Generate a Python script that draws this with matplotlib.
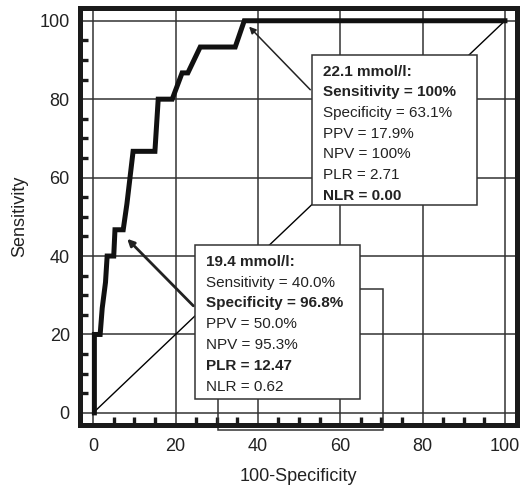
import matplotlib
matplotlib.use("Agg")
import matplotlib.pyplot as plt
from matplotlib.patches import Rectangle

plt.rcParams['font.family'] = ['Liberation Sans', 'DejaVu Sans']

# ROC curve (100-specificity, sensitivity)
fpr = [0.3, 0.3, 1.7, 2.2, 3.0, 3.4, 5.0, 5.3, 7.3, 8.2, 9.7, 15.0, 15.8, 19.2,
       21.6, 23.0, 26.0, 34.5, 36.7, 100]
sens = [0, 20, 20, 26.7, 33.3, 40, 40, 46.7, 46.7, 53.3, 66.7, 66.7, 80, 80,
        86.7, 86.7, 93.3, 93.3, 100, 100]

ticks = [0, 20, 40, 60, 80, 100]
minor = [v for v in range(5, 100, 5) if v % 20]

box1_lines = ["22.1 mmol/l:", "Sensitivity = 100%", "Specificity = 63.1%",
              "PPV = 17.9%", "NPV = 100%", "PLR = 2.71", "NLR = 0.00"]
box1_bold = [True, True, False, False, False, False, True]
box2_lines = ["19.4 mmol/l:", "Sensitivity = 40.0%", "Specificity = 96.8%",
              "PPV = 50.0%", "NPV = 95.3%", "PLR = 12.47", "NLR = 0.62"]
box2_bold = [True, False, True, False, False, True, False]

fig = plt.figure(figsize=(5.2, 4.88), dpi=100)
ax = fig.add_axes([0.153, 0.129, 0.841, 0.855])
ax.set_xlim(-3.3, 102.9)
ax.set_ylim(-3.1, 103.3)

# grid
for t in ticks:
    ax.axvline(t, color='#333333', lw=1.1, zorder=1)
    ax.axhline(t, color='#333333', lw=1.1, zorder=1)

# reference diagonal
ax.plot([0, 100], [0, 100], color='black', lw=1.0, zorder=2)

# ROC curve
ax.plot(fpr, sens, color='#111111', lw=3.6, solid_joinstyle='miter', zorder=3)

# outline rectangle behind the lower box
ax.add_patch(Rectangle((30.3, -4.3), 40.1, 35.9, fill=False, ec='#333333',
                       lw=1.1, zorder=2, clip_on=False))

# annotation boxes
ax.add_patch(Rectangle((53.2, 53.1), 40.0, 38.2, fc='white', ec='#333333',
                       lw=1.1, zorder=5))
ax.add_patch(Rectangle((24.8, 3.6), 40.0, 39.3, fc='white', ec='#333333',
                       lw=1.1, zorder=5))

for i, (s, b) in enumerate(zip(box1_lines, box1_bold)):
    ax.text(55.8, 87.0 - i * 5.27, s, fontsize=11, va='center', ha='left',
            fontweight='bold' if b else 'normal', color='#222222', zorder=6)
for i, (s, b) in enumerate(zip(box2_lines, box2_bold)):
    ax.text(27.4, 38.5 - i * 5.3, s, fontsize=11, va='center', ha='left',
            fontweight='bold' if b else 'normal', color='#222222', zorder=6)

# arrows
ax.annotate('', xy=(37.4, 99.0), xytext=(53.2, 81.9),
            arrowprops=dict(arrowstyle='-|>', color='#222222', lw=1.1,
                            mutation_scale=10), zorder=4)
ax.annotate('', xy=(7.8, 44.9), xytext=(24.8, 26.8),
            arrowprops=dict(arrowstyle='-|>', color='#222222', lw=2.0,
                            mutation_scale=10), zorder=4)

# axes frame and ticks
for sp in ax.spines.values():
    sp.set_linewidth(3.6)
    sp.set_color('#1a1a1a')
ax.set_xticks(ticks)
ax.set_yticks(ticks)
ax.set_xticks(minor, minor=True)
ax.set_yticks(minor, minor=True)
ax.tick_params(which='major', length=0, labelsize=13, pad=9, colors='#222222')
ax.tick_params(which='minor', direction='in', length=5.5, width=2.4, color='#1a1a1a')
ax.tick_params(axis='y', which='major', pad=7)

ax.set_xlabel('100-Specificity', fontsize=13, labelpad=10, color='#222222')
ax.set_ylabel('Sensitivity', fontsize=13, labelpad=8, color='#222222')

fig.savefig('out.png', dpi=100)
